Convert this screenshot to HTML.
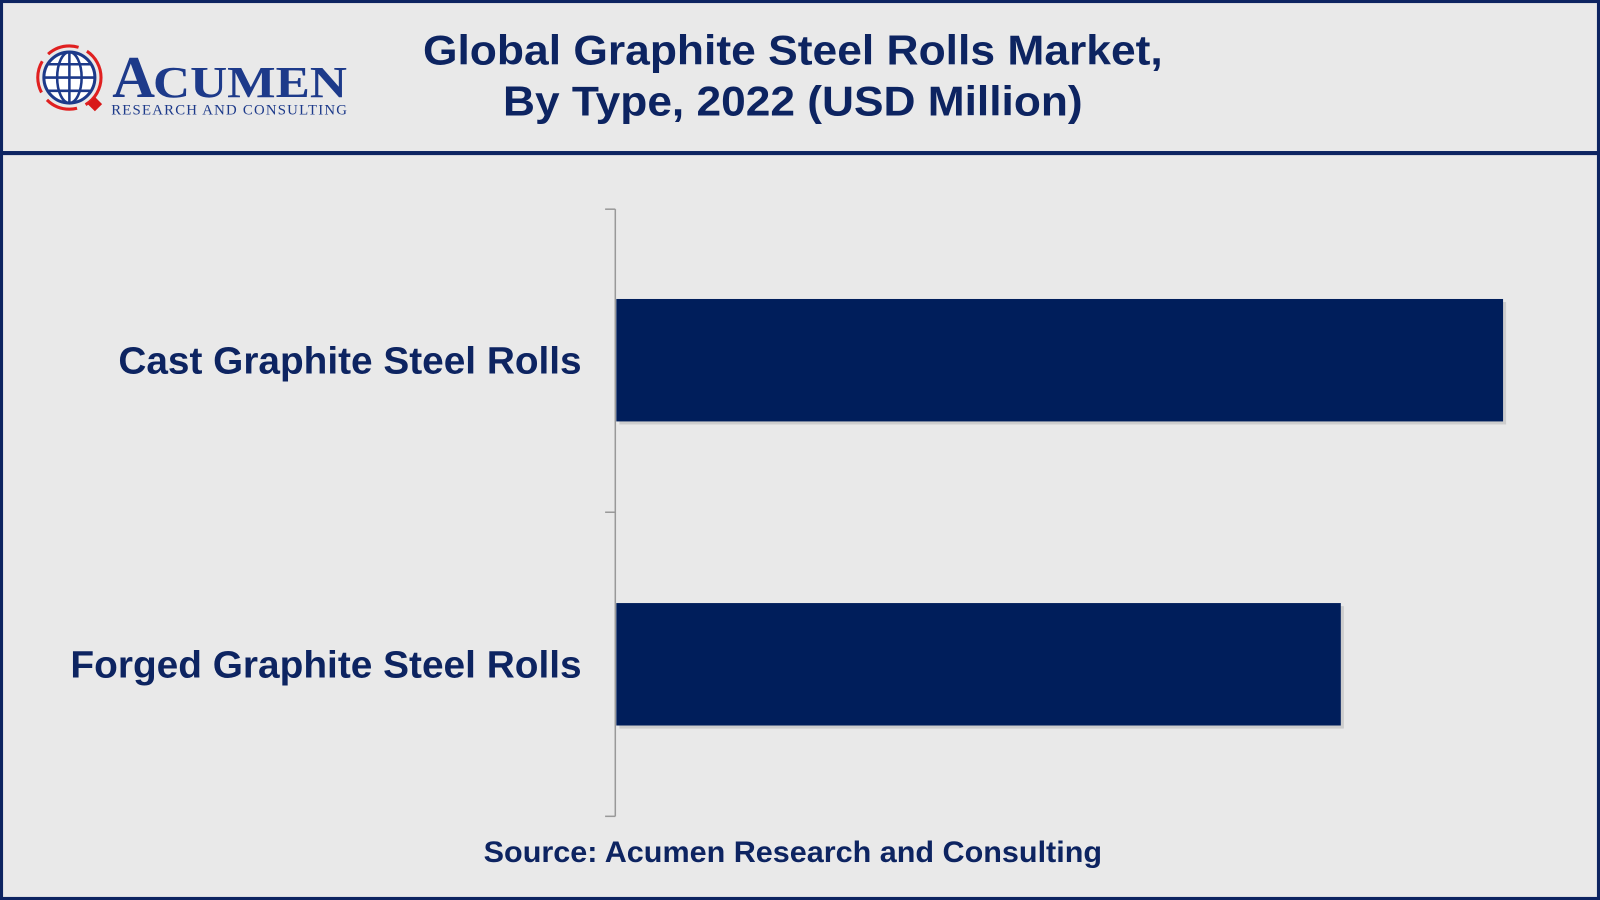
<!DOCTYPE html>
<html><head><meta charset="utf-8"><style>
html,body{margin:0;padding:0;background:#e9e9e9;}
svg{display:block;}
</style></head><body>
<svg width="1600" height="900" viewBox="0 0 1568 882" preserveAspectRatio="none" xmlns="http://www.w3.org/2000/svg">
<rect x="0" y="0" width="1568" height="882" fill="#e9e9e9"/>
<rect x="1.5" y="1.5" width="1565" height="879" fill="none" stroke="#0d2461" stroke-width="3"/>
<rect x="0" y="148" width="1568" height="4" fill="#0d2461"/>
<!-- logo -->
<g>
<circle cx="68" cy="76" r="31" fill="none" stroke="#e02020" stroke-width="3" stroke-dasharray="32 9"/>
<circle cx="68" cy="76" r="25" fill="#fff" stroke="#1d3a8a" stroke-width="3"/>
<ellipse cx="68" cy="76" rx="12" ry="25" fill="none" stroke="#1d3a8a" stroke-width="2.5"/>
<line x1="43" y1="76" x2="93" y2="76" stroke="#1d3a8a" stroke-width="2.5"/>
<line x1="47" y1="63" x2="89" y2="63" stroke="#1d3a8a" stroke-width="2.5"/>
<line x1="47" y1="89" x2="89" y2="89" stroke="#1d3a8a" stroke-width="2.5"/>
<line x1="68" y1="51" x2="68" y2="101" stroke="#1d3a8a" stroke-width="2.5"/>
<rect x="88" y="97" width="10" height="10" fill="#d81818" transform="rotate(45 93 102)"/>
<text x="110" y="95" font-family="Liberation Serif, serif" font-size="58" font-weight="bold" fill="#1d3a8a">A</text>
<text x="150" y="95" font-family="Liberation Serif, serif" font-size="44" font-weight="bold" fill="#1d3a8a" textLength="190" lengthAdjust="spacingAndGlyphs">CUMEN</text>
<text x="109" y="112" font-family="Liberation Serif, serif" font-size="14.5" fill="#1d3a8a" textLength="231">RESEARCH AND CONSULTING</text>
</g>
<g font-family="Liberation Sans, sans-serif" font-weight="bold" fill="#0d2461" text-anchor="middle">
<text x="777" y="63" font-size="41" textLength="725" lengthAdjust="spacingAndGlyphs">Global Graphite Steel Rolls Market,</text>
<text x="777" y="113" font-size="41" textLength="568" lengthAdjust="spacingAndGlyphs">By Type, 2022 (USD Million)</text>
<text x="777" y="845" font-size="29" textLength="606" lengthAdjust="spacingAndGlyphs">Source: Acumen Research and Consulting</text>
</g>
<g stroke="#999" stroke-width="1.5" fill="none">
<line x1="603" y1="205" x2="603" y2="800"/>
<line x1="593" y1="205" x2="603" y2="205"/>
<line x1="593" y1="502" x2="603" y2="502"/>
<line x1="593" y1="800" x2="603" y2="800"/>
</g>
<rect x="607" y="296" width="869" height="120" fill="#bbb" opacity="0.6"/>
<rect x="604" y="293" width="869" height="120" fill="#001e5b"/>
<rect x="607" y="594" width="710" height="120" fill="#bbb" opacity="0.6"/>
<rect x="604" y="591" width="710" height="120" fill="#001e5b"/>
<g font-family="Liberation Sans, sans-serif" font-weight="bold" fill="#0d2461" text-anchor="end" font-size="37">
<text x="570" y="366" textLength="454" lengthAdjust="spacingAndGlyphs">Cast Graphite Steel Rolls</text>
<text x="570" y="664" textLength="501" lengthAdjust="spacingAndGlyphs">Forged Graphite Steel Rolls</text>
</g>
</svg>
</body></html>
